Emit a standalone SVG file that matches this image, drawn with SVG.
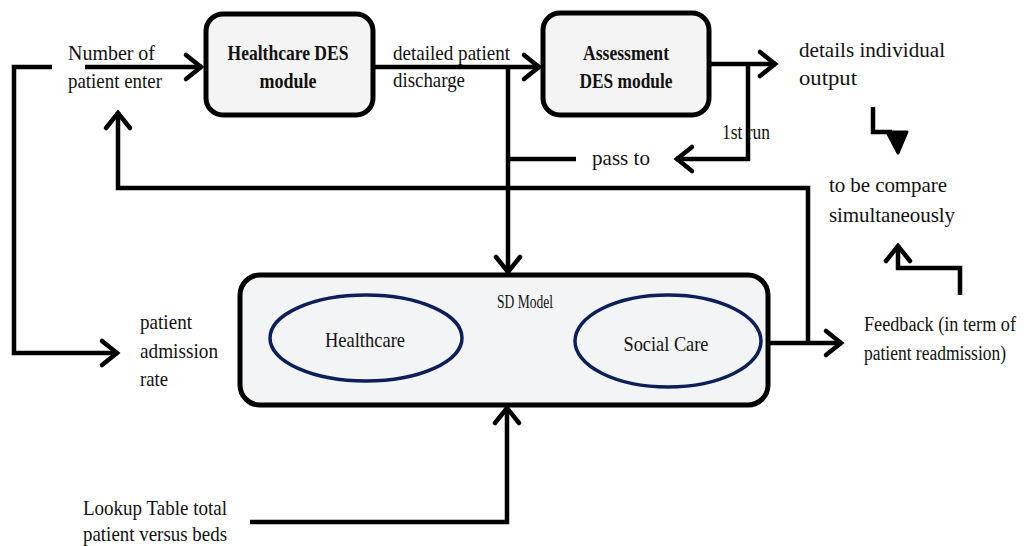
<svg xmlns="http://www.w3.org/2000/svg" width="1034" height="546" viewBox="0 0 1034 546">
<style>
.t{font-family:"Liberation Serif","Times New Roman",serif;font-size:21px;fill:#111}
.b{font-weight:bold;text-anchor:middle}
.box{fill:#f4f4f4;stroke:#000;stroke-width:5}
.ell{fill:none;stroke:#0d1f5a;stroke-width:3.5}
.ln{fill:none;stroke:#000;stroke-width:4.5;stroke-linejoin:miter}
.ar{marker-end:url(#ah)}
</style>
<defs>
<marker id="ah" markerUnits="userSpaceOnUse" viewBox="-20 -16 26 32" refX="1" refY="0" markerWidth="26" markerHeight="32" orient="auto">
<path d="M-15,-12 L0,0 L-15,12" fill="none" stroke="#000" stroke-width="4.5" stroke-linecap="round" stroke-linejoin="miter"/>
</marker>
</defs>
<rect width="1034" height="546" fill="#fff"/>
<g id="connectors">
<polyline class="ln ar" points="52,67 14,67 14,353 118,353"/>
<line class="ln ar" x1="85" y1="67" x2="202" y2="67"/>
<line class="ln ar" x1="373" y1="67" x2="540" y2="67"/>
<line class="ln ar" x1="508" y1="67" x2="508" y2="273"/>
<line class="ln" x1="508" y1="159" x2="576" y2="159"/>
<line class="ln ar" x1="708" y1="64" x2="776" y2="64"/>
<polyline class="ln ar" points="748,64 748,159 676,159"/>
<polyline class="ln ar" points="808,343 808,188 118,188 118,112"/>
<line class="ln ar" x1="768" y1="343" x2="842" y2="343"/>
<polyline class="ln ar" points="250,522 507,522 507,407"/>
<polyline class="ln" points="873,107 873,132 892,132"/>
<path d="M887,132 L898,153 L907,132 Z" fill="#000" stroke="#000" stroke-width="3" stroke-linejoin="round"/>
<polyline class="ln ar" points="960,295 960,268 898,268 898,245"/>
</g>
<g id="hc-des">
<rect class="box" x="206" y="14" width="167" height="101" rx="17"/>
<text class="t b" x="288" y="60" textLength="121" lengthAdjust="spacingAndGlyphs">Healthcare DES</text>
<text class="t b" x="288" y="88" textLength="57" lengthAdjust="spacingAndGlyphs">module</text>
</g>
<g id="as-des">
<rect class="box" x="543" y="13" width="166" height="102" rx="17"/>
<text class="t b" x="626" y="60" textLength="86" lengthAdjust="spacingAndGlyphs">Assessment</text>
<text class="t b" x="626" y="88" textLength="93" lengthAdjust="spacingAndGlyphs">DES module</text>
</g>
<g id="sd-model">
<rect class="box" x="240" y="275" width="528" height="130" rx="20" style="fill:#f3f4f6"/>
<text class="t" x="497" y="308" style="font-size:18px" textLength="56" lengthAdjust="spacingAndGlyphs">SD Model</text>
<ellipse class="ell" cx="366" cy="338" rx="96" ry="43"/>
<text class="t" x="365" y="347" text-anchor="middle" textLength="80" lengthAdjust="spacingAndGlyphs">Healthcare</text>
<ellipse class="ell" cx="668" cy="341" rx="93" ry="46"/>
<text class="t" x="666" y="351" text-anchor="middle" textLength="85" lengthAdjust="spacingAndGlyphs">Social Care</text>
</g>
<g id="labels">
<text class="t" x="68" y="60" textLength="87" lengthAdjust="spacingAndGlyphs">Number of</text>
<text class="t" x="68" y="88" textLength="94" lengthAdjust="spacingAndGlyphs">patient enter</text>
<text class="t" x="393" y="60" textLength="117" lengthAdjust="spacingAndGlyphs">detailed patient</text>
<text class="t" x="393" y="87" textLength="72" lengthAdjust="spacingAndGlyphs">discharge</text>
<text class="t" x="799" y="57" textLength="146" lengthAdjust="spacingAndGlyphs">details individual</text>
<text class="t" x="799" y="85" textLength="58" lengthAdjust="spacingAndGlyphs">output</text>
<text class="t" x="722" y="139" textLength="48" lengthAdjust="spacingAndGlyphs">1st run</text>
<text class="t" x="592" y="165" textLength="58" lengthAdjust="spacingAndGlyphs">pass to</text>
<text class="t" x="829" y="192" textLength="118" lengthAdjust="spacing">to be compare</text>
<text class="t" x="829" y="222" textLength="126" lengthAdjust="spacing">simultaneously</text>
<text class="t" x="864" y="331" style="font-size:20px" textLength="152" lengthAdjust="spacingAndGlyphs">Feedback (in term of</text>
<text class="t" x="864" y="360" style="font-size:20px" textLength="142" lengthAdjust="spacingAndGlyphs">patient readmission)</text>
<text class="t" x="140" y="329" textLength="52" lengthAdjust="spacingAndGlyphs">patient</text>
<text class="t" x="140" y="358" textLength="78" lengthAdjust="spacingAndGlyphs">admission</text>
<text class="t" x="140" y="386" textLength="28" lengthAdjust="spacingAndGlyphs">rate</text>
<text class="t" x="83" y="515" textLength="144" lengthAdjust="spacingAndGlyphs">Lookup Table  total</text>
<text class="t" x="83" y="541" textLength="144" lengthAdjust="spacingAndGlyphs">patient versus beds</text>
</g>
</svg>
